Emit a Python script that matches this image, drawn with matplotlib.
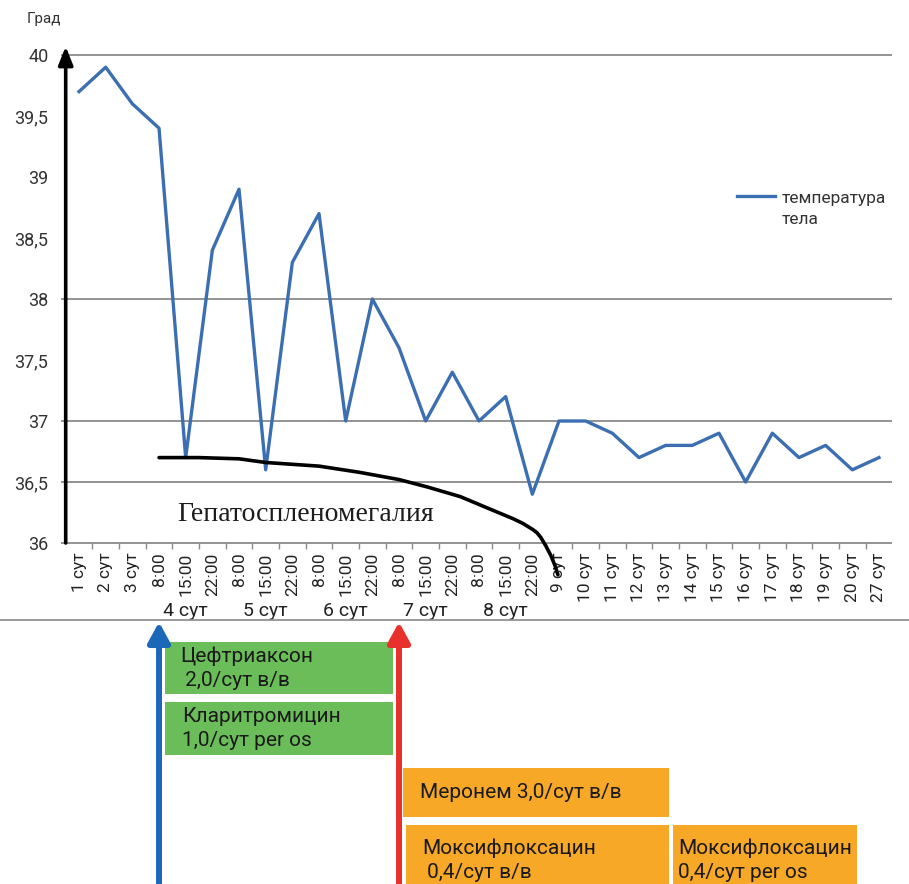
import matplotlib
matplotlib.use('Agg')
import matplotlib.pyplot as plt
from matplotlib.lines import Line2D
from matplotlib.patches import Rectangle
import numpy as np

plt.rcParams['font.family'] = ['Roboto', 'DejaVu Sans']

# Temperature readings: days 1-3 once a day, days 4-8 three times a day, then daily.
time_labels = ['1 сут', '2 сут', '3 сут',
               '8:00', '15:00', '22:00',
               '8:00', '15:00', '22:00',
               '8:00', '15:00', '22:00',
               '8:00', '15:00', '22:00',
               '8:00', '15:00', '22:00',
               '9 сут', '10 сут', '11 сут', '12 сут', '13 сут', '14 сут', '15 сут',
               '16 сут', '17 сут', '18 сут', '19 сут', '20 сут', '27 сут']
temperature = [39.7, 39.9, 39.6,
               39.4, 36.7, 38.4,
               38.9, 36.6, 38.3,
               38.7, 37.0, 38.0,
               37.6, 37.0, 37.4,
               37.0, 37.2, 36.4,
               37.0, 37.0, 36.9, 36.7, 36.8, 36.8, 36.9,
               36.5, 36.9, 36.7, 36.8, 36.6, 36.7]
series_label = 'температура\nтела'

# Day captions under the three-times-a-day block
day_names = ['4 сут', '5 сут', '6 сут', '7 сут', '8 сут']
day_centers = [4, 7, 10, 13, 16]

# Hepatosplenomegaly trend (hand-drawn curve)
hepato_x = [3.0, 4.5, 6.0, 7.0, 9.0, 10.5, 12.0, 13.05, 14.3, 15.5,
            16.27, 16.65, 17.02, 17.17, 17.32, 17.51, 17.70, 17.85, 17.96]
hepato_y = [36.70, 36.70, 36.69, 36.66, 36.63, 36.58, 36.52, 36.46, 36.38, 36.27,
            36.20, 36.16, 36.11, 36.085, 36.045, 35.975, 35.895, 35.815, 35.74]
hepato_label = 'Гепатоспленомегалия'

grid_levels = [36, 36.5, 37, 38, 40]

# Antibiotic therapy: start/end on the same time axis
therapy_starts = [3, 12]
therapy_colors = ['#1b68b8', '#e8302c']
drug_names = ['Цефтриаксон\n 2,0/сут в/в',
              'Кларитромицин\n1,0/сут per os',
              'Меронем 3,0/сут в/в',
              'Моксифлоксацин\n 0,4/сут в/в',
              'Моксифлоксацин\n0,4/сут per os']
drug_start = [3.22, 3.22, 12.15, 12.26, 22.27]
drug_end = [11.77, 11.77, 22.12, 22.12, 29.17]
drug_colors = ['#6bbd5a', '#6bbd5a', '#f7a826', '#f7a826', '#f7a826']
# rows in pixels below the separator line
drug_rows = [(22, 74), (82, 135), (148, 197), (205, 275), (205, 275)]
drug_pad = [15, 17, 17, 16, 5]

W, H = 909, 884
fig = plt.figure(figsize=(W / 100, H / 100), dpi=100)

x = np.arange(len(temperature))
left, right, top, bottom = 65.7, 892.3, 55, 543
ax = fig.add_axes([left / W, 1 - bottom / H, (right - left) / W, (bottom - top) / H])
ax.set_xlim(-0.5, len(x) - 0.5)
ax.set_ylim(36, 40)

ax.hlines(grid_levels, -0.69, len(x) - 0.5, color='#8a8a8a', lw=1.3, clip_on=False, zorder=1)
ax.plot(x, temperature, color='#3c6fb2', lw=2.4, zorder=3)
ax.plot(hepato_x, hepato_y, color='black', lw=2.6, clip_on=False, zorder=4,
        solid_capstyle='round')
ax.text(3.67, 36.23, hepato_label, family='Liberation Serif', fontsize=20,
        color='#1c1c1c', ha='left', va='center')

for side in ['top', 'right', 'left', 'bottom']:
    ax.spines[side].set_visible(False)

# y axis drawn as an arrow
ax.annotate('', xy=(-0.5, 40.07), xytext=(-0.5, 36), annotation_clip=False,
            arrowprops=dict(arrowstyle='-|>,head_length=0.55,head_width=0.22',
                            color='black', lw=2.6, mutation_scale=20,
                            shrinkA=0, shrinkB=0))

yt = np.arange(36, 40.01, 0.5)
ax.set_yticks(yt)
ax.set_yticklabels([f'{v:g}'.replace('.', ',') for v in yt])
ax.tick_params(axis='y', length=0, pad=12.5, labelsize=13, labelcolor='#333333')

ax.set_xticks(x)
ax.set_xticklabels(time_labels, rotation=90)
ax.set_xticks(x[:-1] + 0.5, minor=True)
ax.tick_params(axis='x', which='major', length=0, pad=7, labelsize=12.5, labelcolor='#222222')
ax.tick_params(axis='x', which='minor', length=4.5, width=1, color='#8a8a8a', direction='out')

for name, c in zip(day_names, day_centers):
    ax.text(c, -0.139, name, transform=ax.get_xaxis_transform(), ha='center', va='center',
            fontsize=14, color='#222222')

fig.text(27 / W, 1 - 19 / H, 'Град', fontsize=11, color='#333333', ha='left', va='center')

# legend key
fig.add_artist(Line2D([737 / W, 775 / W], [1 - 196 / H] * 2, color='#3c6fb2', lw=2.4))
fig.text(782 / W, 1 - 209 / H, series_label, fontsize=12.5, color='#333333',
         ha='left', va='center', linespacing=1.5)

# separator between chart and therapy scheme
fig.add_artist(Line2D([0, 1], [1 - 620 / H] * 2, color='#8a8a8a', lw=1.2))

# therapy scheme
bx = fig.add_axes([left / W, 0, (right - left) / W, (H - 620) / H])
bx.set_xlim(-0.5, len(x) - 0.5)
bx.set_ylim(H - 620, 0)
bx.axis('off')

for name, s, e, c, (r0, r1), pad in zip(drug_names, drug_start, drug_end, drug_colors,
                                        drug_rows, drug_pad):
    bx.add_patch(Rectangle((s, r0), e - s, r1 - r0, facecolor=c, edgecolor='none', clip_on=False))
    bx.annotate(name, xy=(s, (r0 + r1) / 2), xytext=(pad, 0), textcoords='offset pixels',
                ha='left', va='center', fontsize=15, color='#1a1a1a', linespacing=1.35,
                annotation_clip=False)

for s, c in zip(therapy_starts, therapy_colors):
    bx.annotate('', xy=(s, 2), xytext=(s, H - 600), annotation_clip=False,
                arrowprops=dict(arrowstyle='-|>,head_length=0.55,head_width=0.3',
                                color=c, lw=4.3, mutation_scale=22,
                                shrinkA=0, shrinkB=0))

fig.savefig('out.png', dpi=100)
plt.close(fig)
